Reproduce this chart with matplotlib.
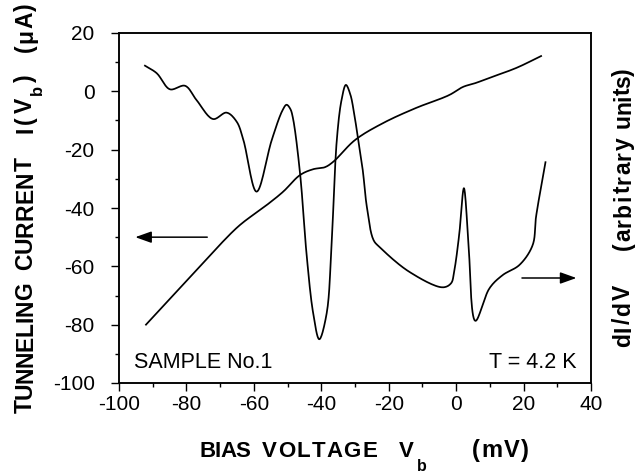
import matplotlib
matplotlib.use("Agg")
import matplotlib.pyplot as plt
import numpy as np
from matplotlib import font_manager
from matplotlib.ft2font import FT2Font

plt.rcParams['font.family'] = ['Liberation Sans', 'DejaVu Sans']
plt.rcParams['axes.unicode_minus'] = False

# I-V curve (tunneling current, µA)
iv_v = [-92, -84, -76, -70, -64.1, -56.2, -51.3, -46.3, -42.4, -38.9, -36.4, -30,
        -21.7, -11.9, -2.1, 2.0, 5.9, 9.8, 17.8, 25.2]
iv_i = [-80, -70, -60, -52.5, -45.8, -39, -34.4, -28.7, -26.7, -26, -24.1, -16.7,
        -10.9, -5.7, -1.3, 1.5, 2.9, 4.6, 8.0, 12.1]

# dI/dV curve (arbitrary units, drawn on the same scale)
didv_v = [-92.3, -88.8, -84.9, -80.4, -77, -72.1, -68.1, -65.1, -63.1, -59.2,
          -54.7, -51.5, -50.3, -49.2, -48.4, -46.3, -44.3, -42.4, -40.6, -38.4,
          -36.9, -35.4, -34, -32.7, -31.4, -30.2, -29, -27.7, -26.5, -24.5, -22.6,
          -14, -4, -1.5, -0.6, 0.9, 2.3, 3.4, 3.8, 5.7, 9.9, 13.8, 18.8, 22.7,
          23.7, 26.5]
didv_y = [8.8, 6.2, 0.7, 1.9, -3, -9.5, -7.3, -10.4, -16.7, -34.4,
          -16.7, -6.5, -4.6, -6, -9.2, -28.1, -56.7, -76.1, -85, -76.1,
          -51, -16.7, -3, 2.2, -1, -8, -17, -27, -39.5, -51, -53.5,
          -61.8, -67.2, -65.8, -61.8, -49.2, -33.2, -47.5, -55, -78.7, -67.5,
          -63, -59.5, -52.7, -43, -24.3]

x_ticks = [-100, -80, -60, -40, -20, 0, 20, 40]
y_ticks = [-100, -80, -60, -40, -20, 0, 20]

W, H = 636, 475


def smooth(xs, ys, n=16, sx=3.37, sy=2.92):
    """Centripetal Catmull-Rom through the points (in screen-like units)."""
    P = np.column_stack([np.asarray(xs, float) * sx, np.asarray(ys, float) * sy])
    P = np.vstack([2 * P[0] - P[1], P, 2 * P[-1] - P[-2]])
    out = []
    for i in range(1, len(P) - 2):
        p0, p1, p2, p3 = P[i - 1], P[i], P[i + 1], P[i + 2]
        t0 = 0.0
        t1 = t0 + np.linalg.norm(p1 - p0) ** 0.5
        t2 = t1 + np.linalg.norm(p2 - p1) ** 0.5
        t3 = t2 + np.linalg.norm(p3 - p2) ** 0.5
        t = np.linspace(t1, t2, n, endpoint=False)[:, None]
        a1 = (t1 - t) / (t1 - t0) * p0 + (t - t0) / (t1 - t0) * p1
        a2 = (t2 - t) / (t2 - t1) * p1 + (t - t1) / (t2 - t1) * p2
        a3 = (t3 - t) / (t3 - t2) * p2 + (t - t2) / (t3 - t2) * p3
        b1 = (t2 - t) / (t2 - t0) * a1 + (t - t0) / (t2 - t0) * a2
        b2 = (t3 - t) / (t3 - t1) * a2 + (t - t1) / (t3 - t1) * a3
        c = (t2 - t) / (t2 - t1) * b1 + (t - t1) / (t2 - t1) * b2
        out.append(c)
    out.append(P[-2][None, :])
    out = np.vstack(out)
    return out[:, 0] / sx, out[:, 1] / sy


_fpath = font_manager.findfont(font_manager.FontProperties(family='Liberation Sans', weight='bold'))


def advance(ch, size):
    f = FT2Font(_fpath)
    f.set_size(size, 100)
    g = f.load_char(ord(ch))
    return g.linearHoriAdvance / 65536.0


def word(fig, segs, start, end, base, size, vertical, max_track=3.0):
    """Draw a word (list of (text, scale, baseline shift px)) centred between
    start and end pixel positions (top-left image coords) on baseline `base`,
    with mild letter spacing so it roughly fills that span."""
    chars = [(c, size * sc, sh) for txt, sc, sh in segs for c in txt]
    adv = [advance(c, s) for c, s, _ in chars]
    span = abs(end - start)
    nat = sum(adv)
    track = 0.0 if len(chars) < 2 else max(-1.0, min(max_track, (span - nat) / (len(chars) - 1)))
    total = nat + track * (len(chars) - 1)
    mid = (start + end) / 2.0
    pos = mid - total / 2.0 if not vertical else mid + total / 2.0
    for (c, s, sh), a in zip(chars, adv):
        if vertical:
            x_px, y_px = base + sh, pos
            fig.text(x_px / W, 1 - y_px / H, c, fontsize=s, fontweight='bold', rotation=90,
                     rotation_mode='anchor', ha='left', va='baseline')
            pos -= a + track
        else:
            x_px, y_px = pos, base + sh
            fig.text(x_px / W, 1 - y_px / H, c, fontsize=s, fontweight='bold',
                     ha='left', va='baseline')
            pos += a + track


fig = plt.figure(figsize=(6.36, 4.75), dpi=100)
ax = fig.add_axes([119 / W, 1 - 383 / H, 472 / W, 350 / H])

sxv, syv = smooth(iv_v, iv_i)
ax.plot(sxv, syv, color='black', lw=1.25)

ax2 = ax.twinx()
dxv, dyv = smooth(didv_v, didv_y)
ax2.plot(dxv, dyv, color='black', lw=1.25)
ax2.set_ylim(-100, 20)
ax2.set_yticks([])

ax.set_xlim(-100, 40)
ax.set_ylim(-100, 20)
ax.set_xticks(x_ticks)
ax.set_yticks(y_ticks)
ax.set_xticks(np.arange(-90, 40, 20), minor=True)
ax.set_yticks(np.arange(-90, 20, 20), minor=True)
ax.tick_params(axis='x', which='major', direction='out', length=5.5, width=1, labelsize=15, pad=3)
ax.tick_params(axis='y', which='major', direction='out', length=5.5, width=1, labelsize=15, pad=12)
ax.tick_params(which='minor', direction='out', length=3, width=1)
for a in (ax, ax2):
    for s in a.spines.values():
        s.set_linewidth(1.1)

# arrows
ax.annotate('', xy=(-96, -50), xytext=(-73, -50),
            arrowprops=dict(arrowstyle='-|>,head_length=0.7,head_width=0.25',
                            color='black', lw=1.1, mutation_scale=14))
ax.annotate('', xy=(36.5, -64), xytext=(18.7, -64),
            arrowprops=dict(arrowstyle='-|>,head_length=0.7,head_width=0.25',
                            color='black', lw=1.1, mutation_scale=14))

ax.text(-95.5, -93, 'SAMPLE No.1', fontsize=15.5, va='center', ha='left')
ax.text(35.8, -93, 'T = 4.2 K', fontsize=15.5, va='center', ha='right')

# left axis label (vertical, reading upwards)
word(fig, [('TUNNELING', 1, 0)], 413, 282, 32, 16.5, True)
word(fig, [('CURRENT', 1, 0)], 270, 157, 32, 16.5, True)
word(fig, [('I(V', 1, 0), ('b', 0.72, 10), (')', 1, 0)], 142, 65, 32, 16.5, True)
word(fig, [('(μA)', 1, 0)], 52, 3, 32, 16.5, True)

# right axis label
word(fig, [('dI/dV', 1, 0)], 347, 285, 630, 16.5, True)
word(fig, [('(arbitrary', 1, 0)], 250, 137, 630, 16.5, True)
word(fig, [('units)', 1, 0)], 128, 68, 630, 16.5, True)

# x axis label
word(fig, [('BIAS', 1, 0)], 202, 248, 457, 16, False)
word(fig, [('VOLTAGE', 1, 0)], 262, 377, 457, 16, False)
word(fig, [('V', 1, 0), ('b', 0.72, 14)], 398, 427, 457, 16, False)
word(fig, [('(mV)', 1, 0)], 468, 533, 457, 17, False, max_track=1.5)

fig.savefig('out.png', dpi=100)
